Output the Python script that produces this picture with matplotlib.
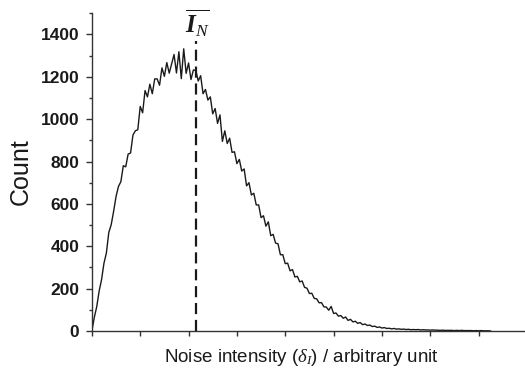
import numpy as np
import matplotlib
matplotlib.use('Agg')
import matplotlib.pyplot as plt
from matplotlib.ticker import MultipleLocator, NullFormatter

plt.rcParams['font.family'] = ['Liberation Sans', 'DejaVu Sans']
plt.rcParams['mathtext.fontset'] = 'custom'
plt.rcParams['mathtext.rm'] = 'Liberation Sans'
plt.rcParams['mathtext.it'] = 'Liberation Serif:italic'
plt.rcParams['mathtext.bf'] = 'Liberation Serif:bold:italic'

# histogram counts, one bin every 0.05 (arbitrary units)
bin_step = 0.05
counts = [
    0, 64, 114, 188, 242, 320, 368, 465, 502, 565,
    635, 682, 705, 780, 775, 835, 840, 925, 945, 950,
    1060, 1030, 1135, 1105, 1165, 1120, 1190, 1190, 1160, 1242,
    1202, 1267, 1217, 1260, 1305, 1218, 1318, 1191, 1332, 1216,
    1265, 1187, 1232, 1230, 1180, 1205, 1120, 1140, 1090, 1105,
    1025, 1050, 980, 1020, 895, 945, 885, 910, 843, 846,
    790, 810, 755, 765, 685, 700, 642, 650, 595, 595,
    535, 544, 495, 515, 450, 456, 415, 412, 360, 360,
    318, 320, 284, 290, 255, 258, 232, 236, 206, 202,
    177, 178, 154, 152, 133, 134, 114, 113, 98, 116,
    83, 85, 70, 73, 60, 66, 50, 55, 43, 46,
    36, 40, 30, 33, 26, 28, 21, 23, 17, 19,
    14, 16, 12, 13, 10, 12, 9, 10, 8, 9,
    7, 8, 6, 7, 6, 7, 5, 6, 5, 5,
    4, 5, 4, 4, 3, 4, 3, 3, 3, 3,
    2, 3, 2, 3, 2, 2, 2, 2, 1, 2,
    1, 2, 1, 1, 1, 0,
]
intensity = np.arange(len(counts)) * bin_step

mean_intensity = 2.15   # position of the I_N line
mean_line_top = 1370

fig = plt.figure(figsize=(5.25, 3.73), dpi=100)
ax = fig.add_axes([0.175, 0.1126, 0.825, 0.852])

ax.plot(intensity, counts, color='#1a1a1a', lw=1.0)
ax.plot([mean_intensity, mean_intensity], [0, mean_line_top], color='#1a1a1a',
        lw=1.6, dashes=(5, 2.6))
ax.text(mean_intensity + 0.03, 1405, r'$\overline{\mathbf{I}_{\mathit{N}}}$',
        fontsize=18, ha='center', va='baseline', color='#1a1a1a')

ax.set_xlim(0, 8.96)
ax.set_ylim(0, 1500)
ax.xaxis.set_major_locator(MultipleLocator(1))
ax.xaxis.set_major_formatter(NullFormatter())
ax.yaxis.set_major_locator(MultipleLocator(200))
ax.yaxis.set_minor_locator(MultipleLocator(100))
for s in ['top', 'right']:
    ax.spines[s].set_visible(False)
for s in ['left', 'bottom']:
    ax.spines[s].set_color('#333333')
    ax.spines[s].set_linewidth(1.0)
ax.tick_params(axis='y', which='major', length=4, width=1, color='#333333',
               labelsize=12.5, pad=5)
ax.tick_params(axis='y', which='minor', length=2.5, width=1, color='#333333')
ax.tick_params(axis='x', which='major', length=3.5, width=1, color='#333333')
for lab in ax.get_yticklabels():
    lab.set_fontweight('bold')
    lab.set_color('#1a1a1a')

ax.set_ylabel('Count', fontsize=18, color='#1a1a1a', labelpad=6)
ax.set_xlabel(r'Noise intensity ($\delta_{I}$) / arbitrary unit', fontsize=13.5,
              color='#1a1a1a', labelpad=5)
ax.xaxis.set_label_coords(0.483, -0.05)

plt.savefig('out.png', dpi=100)
plt.close()
